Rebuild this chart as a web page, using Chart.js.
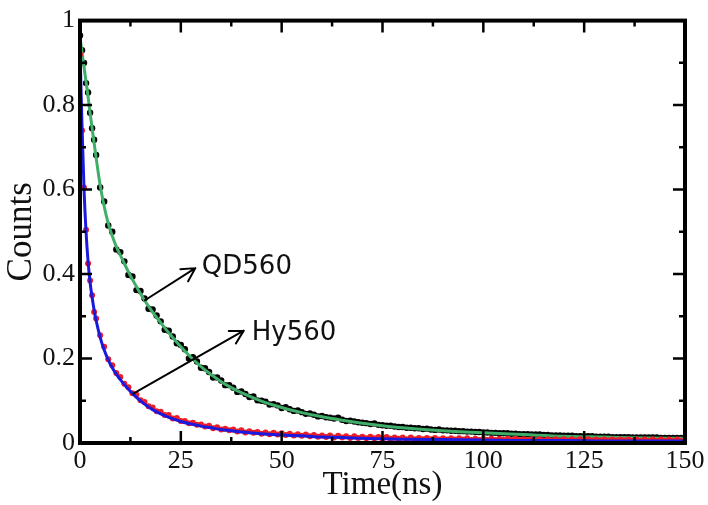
<!DOCTYPE html>
<html lang="en">
  <head>
    <meta charset="UTF-8" />
    <title>QD560 / Hy560 decay</title>
    <script src="https://cdn.jsdelivr.net/npm/chart.js"></script>
    <style>
      html, body { margin: 0; padding: 0; background: #ffffff; }
      #wrap { width: 708px; height: 505px; }
    </style>
  </head>
  <body>
    <div id="wrap">
      <canvas id="decayChart" width="708" height="505"></canvas>
    </div>

    <script>
      // measured points (ns) shared by both samples
      const decayTime = [
        0, 0.5, 1, 1.5, 2, 2.5, 3, 3.5, 4,
        5, 6, 7, 8, 9, 10, 11, 12, 13, 14,
        15, 16, 17, 18, 19, 20, 21, 22, 23, 24,
        25, 26, 27, 28, 29, 30, 31, 32, 33, 34,
        35, 36, 37, 38, 39, 40, 41, 42, 43, 44,
        45, 46, 47, 48, 49, 50, 51, 52, 53, 54,
        55, 56, 57, 58, 59, 60, 61, 62, 63, 64,
        65, 66, 67, 68, 69, 70, 71, 72, 73, 74,
        75, 76, 77, 78, 79, 80, 81, 82, 83, 84,
        85, 86, 87, 88, 89, 90, 91, 92, 93, 94,
        95, 96, 97, 98, 99, 100, 101, 102, 103, 104,
        105, 106, 107, 108, 109, 110, 111, 112, 113, 114,
        115, 116, 117, 118, 119, 120, 121, 122, 123, 124,
        125, 126, 127, 128, 129, 130, 131, 132, 133, 134,
        135, 136, 137, 138, 139, 140, 141, 142, 143, 144,
        145, 146, 147, 148, 149, 150,
      ];

      const qdCounts = [
        0.965, 0.93, 0.9, 0.852, 0.83, 0.782, 0.745, 0.718, 0.682,
        0.605, 0.572, 0.515, 0.5, 0.458, 0.452, 0.43, 0.398, 0.394, 0.362,
        0.36, 0.342, 0.318, 0.316, 0.302, 0.288, 0.268, 0.266, 0.252, 0.236,
        0.232, 0.222, 0.2, 0.203, 0.193, 0.178, 0.177, 0.168, 0.155, 0.155,
        0.148, 0.137, 0.137, 0.131, 0.121, 0.122, 0.116, 0.109, 0.11, 0.101,
        0.1, 0.098, 0.091, 0.092, 0.089, 0.083, 0.085, 0.08, 0.076, 0.077,
        0.073, 0.069, 0.07, 0.067, 0.063, 0.064, 0.061, 0.06, 0.058, 0.06,
        0.055, 0.052, 0.053, 0.051, 0.049, 0.048, 0.047, 0.045, 0.046, 0.043,
        0.042, 0.041, 0.041, 0.039, 0.038, 0.038, 0.036, 0.036, 0.035, 0.035,
        0.033, 0.034, 0.032, 0.031, 0.032, 0.03, 0.03, 0.029, 0.029, 0.028,
        0.028, 0.027, 0.027, 0.026, 0.026, 0.025, 0.025, 0.024, 0.024, 0.023,
        0.023, 0.023, 0.022, 0.022, 0.021, 0.021, 0.021, 0.02, 0.02, 0.02,
        0.019, 0.019, 0.018, 0.018, 0.018, 0.017, 0.017, 0.017, 0.016, 0.016,
        0.016, 0.016, 0.016, 0.015, 0.015, 0.015, 0.015, 0.014, 0.014, 0.014,
        0.014, 0.014, 0.013, 0.013, 0.013, 0.013, 0.013, 0.013, 0.013, 0.012,
        0.012, 0.012, 0.012, 0.012, 0.012, 0.012,
      ];

      const hyCounts = [
        0.92, 0.74, 0.605, 0.505, 0.425, 0.385, 0.35, 0.31, 0.295,
        0.255, 0.228, 0.198, 0.184, 0.166, 0.156, 0.14, 0.132, 0.118, 0.114,
        0.101, 0.097, 0.087, 0.084, 0.075, 0.074, 0.066, 0.066, 0.058, 0.059,
        0.052, 0.052, 0.047, 0.048, 0.043, 0.044, 0.039, 0.041, 0.035, 0.037,
        0.032, 0.034, 0.03, 0.032, 0.027, 0.03, 0.025, 0.028, 0.024, 0.026,
        0.022, 0.025, 0.021, 0.024, 0.02, 0.023, 0.019, 0.022, 0.018, 0.021,
        0.017, 0.02, 0.016, 0.019, 0.015, 0.018, 0.014, 0.018, 0.013, 0.017,
        0.013, 0.016, 0.012, 0.016, 0.012, 0.015, 0.011, 0.015, 0.011, 0.014,
        0.01, 0.014, 0.01, 0.013, 0.01, 0.013, 0.009, 0.013, 0.009, 0.012,
        0.009, 0.012, 0.009, 0.012, 0.008, 0.011, 0.008, 0.011, 0.008, 0.011,
        0.008, 0.011, 0.007, 0.01, 0.007, 0.01, 0.007, 0.01, 0.007, 0.01,
        0.007, 0.01, 0.007, 0.01, 0.007, 0.009, 0.007, 0.009, 0.006, 0.009,
        0.006, 0.009, 0.006, 0.009, 0.006, 0.009, 0.006, 0.009, 0.006, 0.009,
        0.006, 0.009, 0.006, 0.008, 0.006, 0.008, 0.006, 0.008, 0.006, 0.008,
        0.006, 0.008, 0.005, 0.008, 0.005, 0.008, 0.005, 0.008, 0.005, 0.008,
        0.005, 0.008, 0.005, 0.008, 0.005, 0.008,
      ];

      // fitted decay curves
      const fitTime = [
        0, 0.5, 1, 1.5, 2, 2.5, 3, 3.5, 4, 5, 6, 7, 8, 9, 10, 12, 14, 16, 18,
        20, 22.5, 25, 27.5, 30, 32.5, 35, 37.5, 40, 45, 50, 55, 60, 65, 70,
        75, 80, 90, 100, 110, 120, 130, 140, 150,
      ];
      const qdFit = [
        0.96, 0.925, 0.89, 0.855, 0.82, 0.782, 0.745, 0.71, 0.675, 0.61, 0.56,
        0.52, 0.49, 0.465, 0.445, 0.405, 0.37, 0.338, 0.31, 0.285, 0.255,
        0.228, 0.203, 0.181, 0.162, 0.145, 0.131, 0.119, 0.099, 0.084, 0.072,
        0.062, 0.054, 0.047, 0.041, 0.036, 0.029, 0.024, 0.02, 0.016, 0.014,
        0.012, 0.011,
      ];
      const hyFit = [
        0.93, 0.75, 0.6, 0.5, 0.43, 0.38, 0.345, 0.315, 0.29, 0.25, 0.22,
        0.197, 0.178, 0.163, 0.15, 0.127, 0.108, 0.092, 0.079, 0.069, 0.059,
        0.051, 0.045, 0.04, 0.036, 0.032, 0.029, 0.026, 0.022, 0.019, 0.017,
        0.014, 0.013, 0.011, 0.01, 0.009, 0.008, 0.007, 0.006, 0.006, 0.005,
        0.005, 0.005,
      ];

      const xTicks = [0, 25, 50, 75, 100, 125, 150];
      const yTicks = [0, 0.2, 0.4, 0.6, 0.8, 1];

      // arrow labels: tail, head and text anchor in data units
      const labelNotes = [
        { text: "QD560", tail: [16.1, 0.338], head: [28.6, 0.414], at: [30.2, 0.401] },
        { text: "Hy560", tail: [13.2, 0.117], head: [40.6, 0.266], at: [42.6, 0.244] },
      ];

      const pairUp = (xs, ys) => xs.map((x, i) => ({ x: x, y: ys[i] }));

      // thick frame with inward ticks on all four sides
      const framePlugin = {
        id: "frame",
        afterDatasetsDraw(chart) {
          const { ctx, chartArea: a, scales } = chart;
          ctx.save();
          ctx.strokeStyle = "#000";
          ctx.lineCap = "butt";

          ctx.lineWidth = 2.5;
          for (let v = 0; v <= 150.001; v += 12.5) {
            const px = scales.x.getPixelForValue(v);
            const len = v % 25 === 0 ? 12 : 6;
            ctx.beginPath();
            ctx.moveTo(px, a.bottom);
            ctx.lineTo(px, a.bottom - len);
            ctx.moveTo(px, a.top);
            ctx.lineTo(px, a.top + len);
            ctx.stroke();
          }
          for (let i = 0; i <= 10; i++) {
            const py = scales.y.getPixelForValue(i / 10);
            const len = i % 2 === 0 ? 12 : 6;
            ctx.beginPath();
            ctx.moveTo(a.left, py);
            ctx.lineTo(a.left + len, py);
            ctx.moveTo(a.right, py);
            ctx.lineTo(a.right - len, py);
            ctx.stroke();
          }

          ctx.lineWidth = 4;
          ctx.strokeRect(a.left, a.top, a.right - a.left, a.bottom - a.top);
          ctx.restore();
        },
      };

      const notePlugin = {
        id: "notes",
        afterDraw(chart) {
          const { ctx, scales } = chart;
          const px = (p) => [scales.x.getPixelForValue(p[0]), scales.y.getPixelForValue(p[1])];
          ctx.save();
          ctx.strokeStyle = "#000";
          ctx.fillStyle = "#111";
          ctx.lineWidth = 2;
          ctx.lineCap = "round";
          ctx.lineJoin = "round";
          labelNotes.forEach((n) => {
            const [x0, y0] = px(n.tail);
            const [x1, y1] = px(n.head);
            const ang = Math.atan2(y1 - y0, x1 - x0);
            const arm = 15;
            ctx.beginPath();
            ctx.moveTo(x0, y0);
            ctx.lineTo(x1, y1);
            ctx.moveTo(x1 - arm * Math.cos(ang - 0.5), y1 - arm * Math.sin(ang - 0.5));
            ctx.lineTo(x1, y1);
            ctx.lineTo(x1 - arm * Math.cos(ang + 0.5), y1 - arm * Math.sin(ang + 0.5));
            ctx.stroke();

            const [tx, ty] = px(n.at);
            ctx.font = '26px "DejaVu Sans"';
            ctx.textAlign = "left";
            ctx.textBaseline = "alphabetic";
            ctx.fillText(n.text, tx, ty);
          });
          ctx.restore();
        },
      };

      const serif = "'Liberation Serif', 'Times New Roman', serif";

      new Chart(document.getElementById("decayChart").getContext("2d"), {
        type: "scatter",
        data: {
          datasets: [
            {
              label: "QD560",
              data: pairUp(decayTime, qdCounts),
              backgroundColor: "#000",
              borderColor: "#000",
              pointRadius: 3.2,
              borderWidth: 0,
              order: 4,
            },
            {
              label: "QD560 fit",
              data: pairUp(fitTime, qdFit),
              showLine: true,
              borderColor: "#3fae68",
              borderWidth: 3,
              pointRadius: 0,
              cubicInterpolationMode: "monotone",
              order: 3,
            },
            {
              label: "Hy560",
              data: pairUp(decayTime, hyCounts),
              backgroundColor: "#ee1c24",
              borderColor: "#ee1c24",
              pointRadius: 3,
              borderWidth: 0,
              order: 2,
            },
            {
              label: "Hy560 fit",
              data: pairUp(fitTime, hyFit),
              showLine: true,
              borderColor: "#1a1adf",
              borderWidth: 3,
              pointRadius: 0,
              cubicInterpolationMode: "monotone",
              order: 1,
            },
          ],
        },
        options: {
          responsive: false,
          animation: false,
          events: [],
          layout: { padding: { left: 0, top: 20, right: 23, bottom: 0 } },
          plugins: {
            legend: { display: false },
            tooltip: { enabled: false },
          },
          scales: {
            x: {
              type: "linear",
              min: 0,
              max: 150,
              afterBuildTicks: (s) => { s.ticks = xTicks.map((v) => ({ value: v })); },
              afterFit: (s) => { s.height = 62; },
              grid: { display: false, drawTicks: false },
              border: { display: false },
              ticks: {
                padding: 3,
                color: "#111",
                font: { family: serif, size: 26 },
                maxRotation: 0,
                callback: (v) => String(v),
              },
              title: {
                display: true,
                text: "Time(ns)",
                color: "#111",
                font: { family: serif, size: 33 },
                padding: { top: 0, bottom: 0 },
              },
            },
            y: {
              type: "linear",
              min: 0,
              max: 1,
              afterBuildTicks: (s) => { s.ticks = yTicks.map((v) => ({ value: v })); },
              afterFit: (s) => { s.width = 80; },
              grid: { display: false, drawTicks: false },
              border: { display: false },
              ticks: {
                padding: 5,
                color: "#111",
                font: { family: serif, size: 26 },
                callback: (v) => String(v),
              },
              title: {
                display: true,
                text: "Counts",
                color: "#111",
                font: { family: serif, size: 35 },
                padding: { top: 1, bottom: 0 },
              },
            },
          },
        },
        plugins: [framePlugin, notePlugin],
      });
    </script>
  </body>
</html>
